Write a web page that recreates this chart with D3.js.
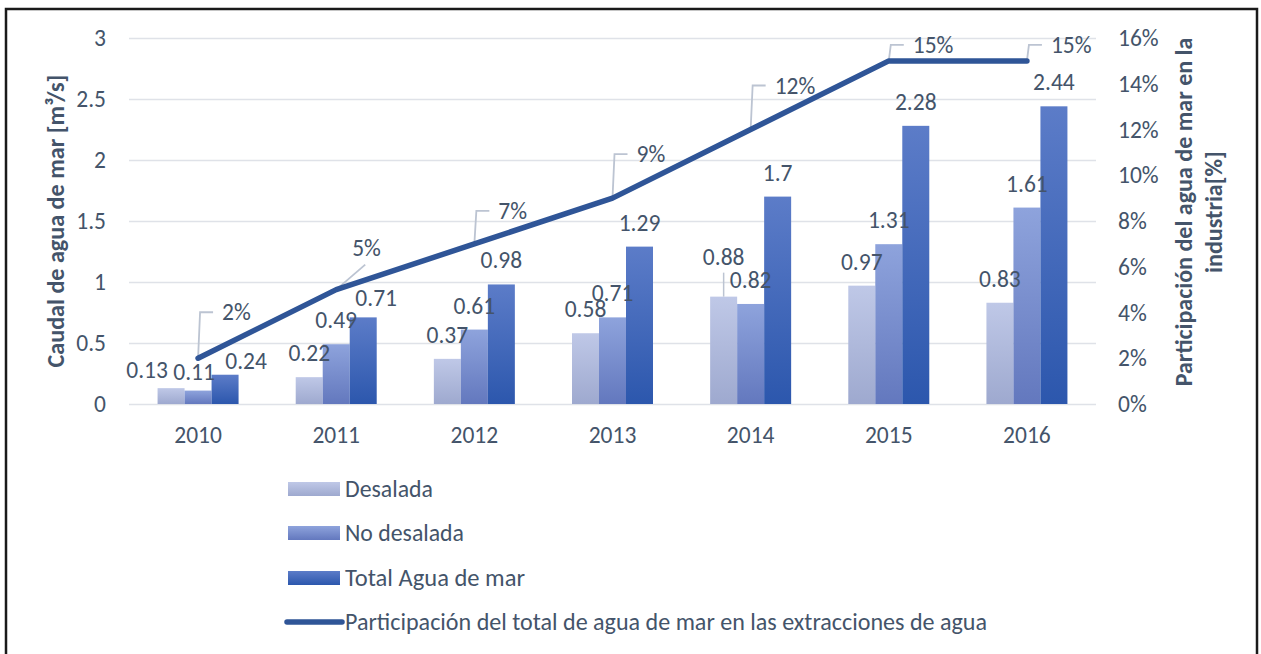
<!DOCTYPE html>
<html>
<head>
<meta charset="utf-8">
<script src="https://cdn.jsdelivr.net/npm/d3@7"></script>
<style>
  body { margin: 0; background: #fff; }
  svg text { font-family: Carlito, "Open Sans", sans-serif; fill: #44546a; }
</style>
</head>
<body>
<svg id="chart" width="1261" height="654"></svg>
<script>
// data
const years = ["2010", "2011", "2012", "2013", "2014", "2015", "2016"];
const desalada = [0.13, 0.22, 0.37, 0.58, 0.88, 0.97, 0.83];
const noDesalada = [0.11, 0.49, 0.61, 0.71, 0.82, 1.31, 1.61];
const totalMar = [0.24, 0.71, 0.98, 1.29, 1.7, 2.28, 2.44];
const participacion = [2, 5, 7, 9, 12, 15, 15]; // %
const leftTicks = [0, 0.5, 1, 1.5, 2, 2.5, 3];
const rightTicks = [0, 2, 4, 6, 8, 10, 12, 14, 16];

const seriesNames = ["Desalada", "No desalada", "Total Agua de mar"];
const lineName = "Participación del total de agua de mar en las extracciones de agua";

// label nudges (dx, dy) where the labels were moved to avoid overlaps
const barLabelNudge = [
    [[-24, 6], [-4, 5], [21, 10]],
    [[0, 0], [0, 0], [13, 5]],
    [[0, 0], [0, 0], [0, 0]],
    [[0, 0], [0, 0], [0, 0]],
    [[0, -16], [0, 0], [0, 0]],
    [[0, 0], [0, 0], [0, 0]],
    [[0, 0], [0, 0], [0, 0]]
];
const pctLabelDy = [-46, -42, -33, -44, -44, -16, -16];
const pctLeader = ["elbow", "diag", "elbow", "elbow", "elbow", "elbow", "elbow"];

const svg = d3.select("#chart");
const plotLeft = 129, plotRight = 1096, plotTop = 38, plotBottom = 404;
const fs = 23.5;

// outer frame
svg.append("rect")
    .attr("x", 6).attr("y", 9).attr("width", 1251).attr("height", 680)
    .attr("fill", "none").attr("stroke", "#1a1a1a").attr("stroke-width", 2.5);

const x = d3.scaleBand().domain(years).range([plotLeft, plotRight]).paddingInner(0).paddingOuter(0);
const groupW = 81;
const x1 = d3.scaleBand().domain([0, 1, 2]).range([0, groupW]);
const y = d3.scaleLinear().domain([0, 3]).range([plotBottom, plotTop]);
const yR = d3.scaleLinear().domain([0, 16]).range([plotBottom, plotTop]);

// gradients
const defs = svg.append("defs");
const grads = [
    ["#bfc8e7", "#9ea9cf"],
    ["#8ea3dc", "#6378be"],
    ["#5c7cc8", "#2c57ad"]
];
grads.forEach((g, i) => {
    const lg = defs.append("linearGradient").attr("id", "g" + i)
        .attr("x1", 0).attr("y1", 0).attr("x2", 0).attr("y2", 1);
    lg.append("stop").attr("offset", "0%").attr("stop-color", g[0]);
    lg.append("stop").attr("offset", "100%").attr("stop-color", g[1]);
});

// gridlines
const grid = svg.append("g").attr("transform", `translate(${plotLeft},0)`)
    .call(d3.axisLeft(y).tickValues(leftTicks).tickSize(-(plotRight - plotLeft)).tickFormat(""));
grid.select(".domain").remove();
grid.selectAll("line").attr("stroke", "#dfe2e8").attr("stroke-width", 1.5);

// left axis
const yAxis = svg.append("g").attr("transform", `translate(${plotLeft},0)`)
    .call(d3.axisLeft(y).tickValues(leftTicks).tickSize(0).tickPadding(23).tickFormat(d => d));
yAxis.select(".domain").remove();
yAxis.selectAll("text").attr("font-size", fs).attr("fill", "#44546a").attr("font-family", null);

// right axis
const yAxisR = svg.append("g").attr("transform", `translate(${plotRight},0)`)
    .call(d3.axisRight(yR).tickValues(rightTicks).tickSize(0).tickPadding(22).tickFormat(d => d + "%"));
yAxisR.select(".domain").remove();
yAxisR.selectAll("text").attr("font-size", fs).attr("fill", "#44546a").attr("font-family", null);

// x axis
const xAxis = svg.append("g").attr("transform", `translate(0,${plotBottom})`)
    .call(d3.axisBottom(x).tickSize(0).tickPadding(22));
xAxis.select(".domain").remove();
xAxis.selectAll("text").attr("font-size", fs).attr("fill", "#44546a").attr("font-family", null);

// bars
const seriesData = [desalada, noDesalada, totalMar];
const groups = svg.append("g").selectAll("g")
    .data(years).join("g")
    .attr("transform", d => `translate(${x(d) + (x.bandwidth() - groupW) / 2},0)`);

groups.each(function(yr, yi) {
    const g = d3.select(this);
    seriesData.forEach((s, si) => {
        g.append("rect")
            .attr("x", x1(si)).attr("y", y(s[yi]))
            .attr("width", x1.bandwidth()).attr("height", plotBottom - y(s[yi]))
            .attr("fill", `url(#g${si})`);
    });
});

// bar labels
groups.each(function(yr, yi) {
    const g = d3.select(this);
    seriesData.forEach((s, si) => {
        const n = barLabelNudge[yi][si];
        const cx = x1(si) + x1.bandwidth() / 2 + n[0];
        const cy = y(s[yi]) - 24 + n[1];
        if (n[1] < -10) {
            g.append("line")
                .attr("x1", x1(si) + x1.bandwidth() / 2).attr("x2", x1(si) + x1.bandwidth() / 2)
                .attr("y1", y(s[yi])).attr("y2", cy + 16)
                .attr("stroke", "#bcc4d2").attr("stroke-width", 1.5);
        }
        g.append("text")
            .attr("x", cx).attr("y", cy)
            .attr("text-anchor", "middle").attr("dominant-baseline", "central")
            .attr("font-size", fs)
            .text(s[yi]);
    });
});

// line series
const cxs = years.map(d => x(d) + x.bandwidth() / 2);
const line = d3.line().x((d, i) => cxs[i]).y(d => yR(d));

// leader lines and percentage labels
participacion.forEach((v, i) => {
    const px = cxs[i], py = yR(v);
    const ly = py + pctLabelDy[i];
    if (pctLeader[i] === "elbow") {
        svg.append("path")
            .attr("d", `M${px},${py} L${px + 2},${ly} L${px + 15},${ly}`)
            .attr("fill", "none").attr("stroke", "#bcc4d2").attr("stroke-width", 1.8);
        svg.append("text")
            .attr("x", px + 24).attr("y", ly)
            .attr("dominant-baseline", "central").attr("font-size", fs)
            .text(v + "%");
    } else {
        svg.append("line")
            .attr("x1", px).attr("y1", py).attr("x2", px + 29).attr("y2", py - 25)
            .attr("stroke", "#bcc4d2").attr("stroke-width", 1.8);
        svg.append("text")
            .attr("x", px + 16).attr("y", ly)
            .attr("dominant-baseline", "central").attr("font-size", fs)
            .text(v + "%");
    }
});

svg.append("path")
    .datum(participacion)
    .attr("d", line)
    .attr("fill", "none")
    .attr("stroke", "#2f5597")
    .attr("stroke-width", 5.5)
    .attr("stroke-linejoin", "round")
    .attr("stroke-linecap", "round");

// axis titles, sized to the span they take in the original
function fitText(sel, target) {
    const w = sel.node().getComputedTextLength();
    const f = +sel.attr("font-size");
    sel.attr("font-size", f * target / w);
}

const lt = svg.append("text")
    .attr("transform", "translate(55,221) rotate(-90)")
    .attr("text-anchor", "middle").attr("dominant-baseline", "central")
    .attr("font-size", 20).attr("font-weight", "bold")
    .text("Caudal de agua de mar [m³/s]");
fitText(lt, 293);

const rt1 = svg.append("text")
    .attr("transform", "translate(1183,212) rotate(-90)")
    .attr("text-anchor", "middle").attr("dominant-baseline", "central")
    .attr("font-size", 20).attr("font-weight", "bold")
    .text("Participación del agua de mar en la");
fitText(rt1, 349);
svg.append("text")
    .attr("transform", "translate(1213,212) rotate(-90)")
    .attr("text-anchor", "middle").attr("dominant-baseline", "central")
    .attr("font-size", rt1.attr("font-size")).attr("font-weight", "bold")
    .text("industria[%]");

// legend
const legX = 288, legY = [489, 533, 578, 622];
const legW = [88, 119, 180, 642];
seriesNames.forEach((name, i) => {
    svg.append("rect")
        .attr("x", legX).attr("y", legY[i] - 7).attr("width", 52).attr("height", 14)
        .attr("fill", `url(#g${i})`);
});
svg.append("line")
    .attr("x1", legX - 1).attr("x2", legX + 54).attr("y1", legY[3]).attr("y2", legY[3])
    .attr("stroke", "#2f5597").attr("stroke-width", 5.5).attr("stroke-linecap", "round");

seriesNames.concat([lineName]).forEach((name, i) => {
    svg.append("text")
        .attr("x", 345).attr("y", legY[i])
        .attr("dominant-baseline", "central").attr("font-size", fs)
        .attr("textLength", legW[i]).attr("lengthAdjust", "spacingAndGlyphs")
        .text(name);
});
</script>
</body>
</html>
